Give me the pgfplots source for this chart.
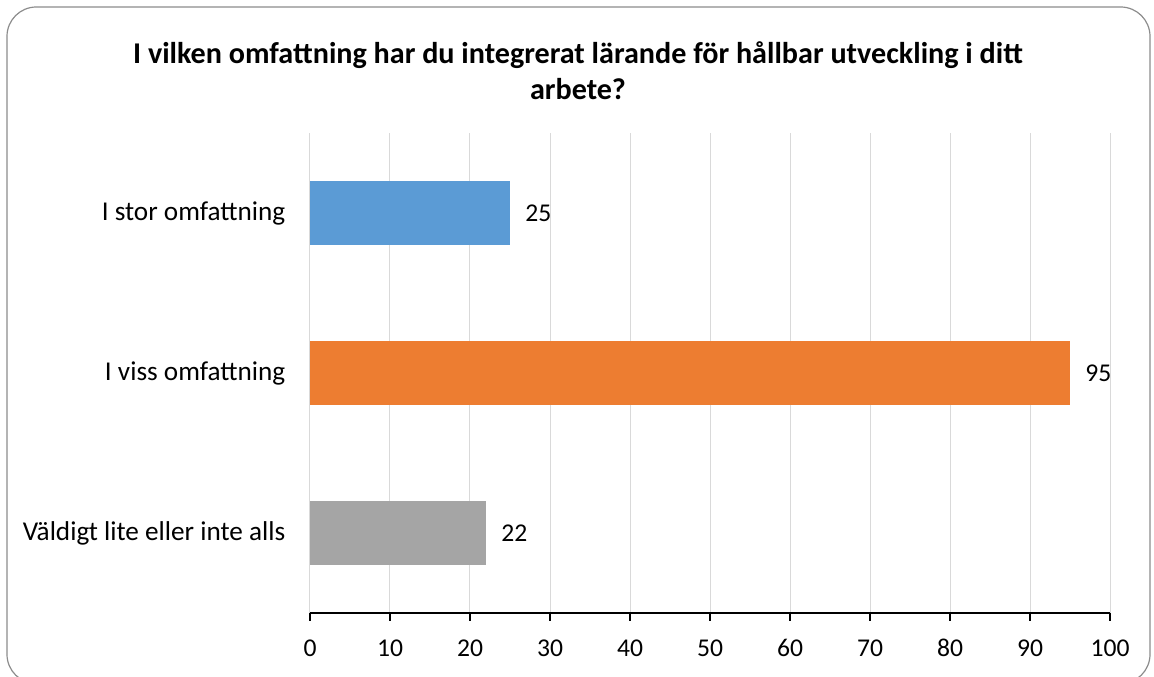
\documentclass[border=0pt]{standalone}
\usepackage{fontspec}
\setmainfont{Carlito}
\usepackage{pgfplots}
\pgfplotsset{compat=1.18}
\definecolor{cblue}{HTML}{5B9BD5}
\definecolor{corange}{HTML}{ED7D31}
\definecolor{cgray}{HTML}{A5A5A5}
\definecolor{gridc}{HTML}{D9D9D9}
\definecolor{framec}{HTML}{8C8C8C}
\begin{document}
\begin{tikzpicture}
\useasboundingbox (0,0) rectangle (865.5pt,507.75pt);
\draw[framec, line width=0.9pt, rounded corners=22pt] (5.25pt,-5pt) rectangle (862.5pt,502.5pt);
\node[font=\fontsize{22.6}{27}\selectfont\bfseries, align=center] at (433.5pt,454.5pt) {I vilken omfattning har du integrerat lärande för hållbar utveckling i ditt\\arbete?};
\begin{axis}[
  at={(232.5pt,48pt)}, anchor=south west,
  scale only axis, width=600pt, height=360pt,
  xbar, bar width=48pt, bar shift=0pt,
  xmin=0, xmax=100, ymin=-0.5, ymax=2.5,
  xtick={0,10,...,100},
  ytick={0,1,2},
  yticklabels={Väldigt lite eller inte alls, I viss omfattning, I stor omfattning},
  axis x line*=bottom, axis y line*=left,
  y axis line style={draw=none},
  x axis line style={black, line width=0.9pt, -},
  xmajorgrids, major grid style={gridc, line width=0.75pt},
  tick align=outside,
  major x tick style={black, line width=0.9pt},
  major tick length=6pt,
  major y tick style={draw=none},
  /pgf/number format/assume math mode=true,
  tick label style={text=black},
  xticklabel style={font=\fontsize{19.2}{23}\selectfont, anchor=base, yshift=-27pt},
  yticklabel style={font=\fontsize{20.4}{24}\selectfont, xshift=-9pt},
  nodes near coords,
  nodes near coords style={font=\fontsize{19.2}{23}\selectfont, anchor=west, xshift=8pt, text=black},
  every axis plot/.append style={draw=none},
]
\addplot[fill=cgray] coordinates {(22,0)};
\addplot[fill=corange] coordinates {(95,1)};
\addplot[fill=cblue] coordinates {(25,2)};
\end{axis}
\end{tikzpicture}
\end{document}
